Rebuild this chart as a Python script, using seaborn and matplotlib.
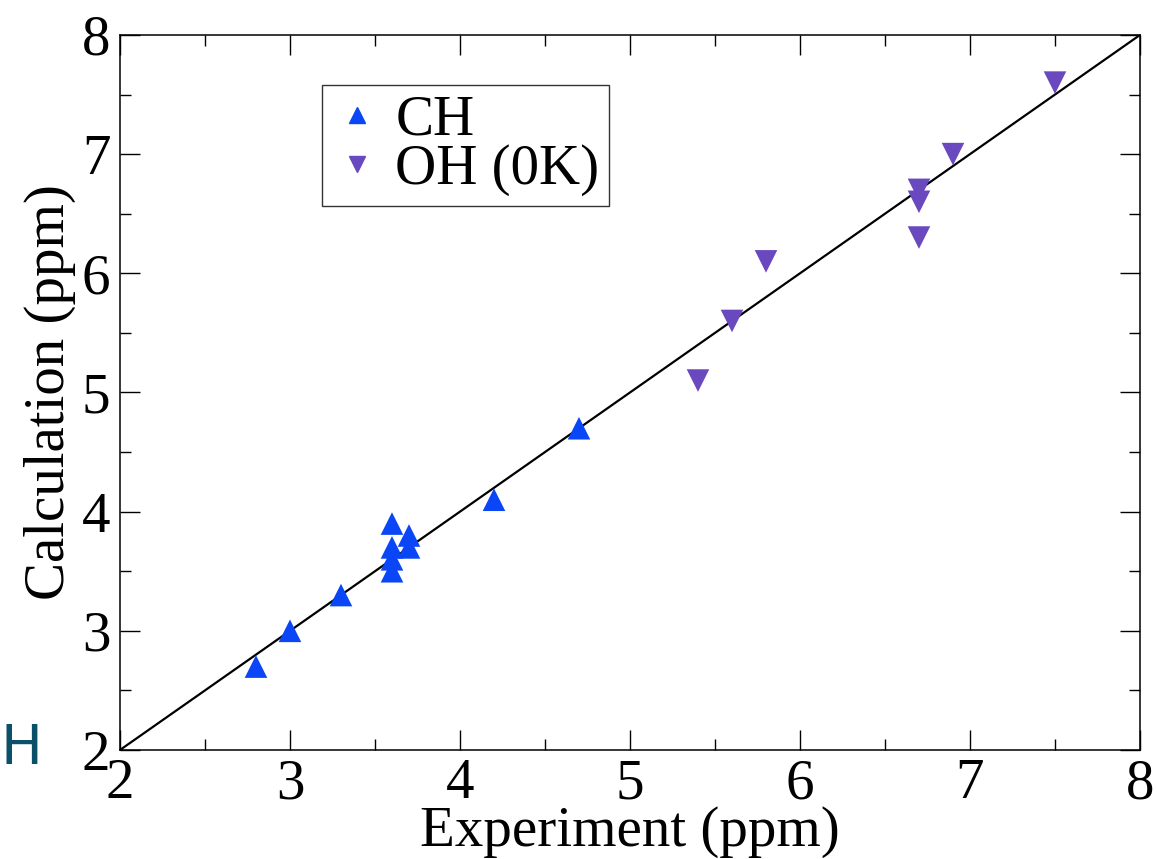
import matplotlib
matplotlib.use("Agg")
import matplotlib.pyplot as plt
import seaborn as sns
import pandas as pd
from matplotlib.ticker import MultipleLocator

# Chemical shifts: experiment vs. calculation (ppm)
ch_exp = [2.8, 3.0, 3.3, 3.6, 3.6, 3.6, 3.6, 3.7, 3.7, 4.2, 4.7]
ch_calc = [2.7, 3.0, 3.3, 3.9, 3.7, 3.6, 3.5, 3.8, 3.7, 4.1, 4.7]
oh_exp = [5.4, 5.6, 5.8, 6.7, 6.7, 6.7, 6.9, 7.5]
oh_calc = [5.1, 5.6, 6.1, 6.7, 6.6, 6.3, 7.0, 7.6]
series_names = ["CH", "OH (0K)"]
axis_limits = [2, 8]

df = pd.DataFrame({
    "exp": ch_exp + oh_exp,
    "calc": ch_calc + oh_calc,
    "group": [series_names[0]] * len(ch_exp) + [series_names[1]] * len(oh_exp),
})

sns.set_style("ticks")
plt.rcParams["font.family"] = ["Liberation Serif", "DejaVu Serif"]
plt.rcParams["text.color"] = "black"
plt.rcParams["axes.labelcolor"] = "black"
plt.rcParams["xtick.color"] = "black"
plt.rcParams["ytick.color"] = "black"
plt.rcParams["axes.edgecolor"] = "black"

fig = plt.figure(figsize=(11.57, 8.59), dpi=100)
ax = fig.add_axes([0.1037, 0.1269, 0.8816, 0.8324])

palette = {series_names[0]: "#0a46f5", series_names[1]: "#6a48be"}
markers = {series_names[0]: "^", series_names[1]: "v"}

# y = x reference line
ax.plot(axis_limits, axis_limits, color="black", lw=1.6, zorder=1)
sns.scatterplot(data=df, x="exp", y="calc", hue="group", style="group",
                palette=palette, markers=markers, s=265, linewidth=0,
                ax=ax, zorder=3, legend=False)

ax.set_xlim(*axis_limits)
ax.set_ylim(*axis_limits)
ax.xaxis.set_major_locator(MultipleLocator(1))
ax.yaxis.set_major_locator(MultipleLocator(1))
ax.xaxis.set_minor_locator(MultipleLocator(0.5))
ax.yaxis.set_minor_locator(MultipleLocator(0.5))
ax.tick_params(which="both", direction="in", top=True, right=True, width=1.0)
ax.tick_params(which="major", length=14.5, labelsize=41)
ax.tick_params(axis="x", which="major", pad=6)
ax.tick_params(axis="y", which="major", pad=7)
ax.tick_params(which="minor", length=8)
for sp in ax.spines.values():
    sp.set_linewidth(1.1)

ax.set_xlabel("Experiment (ppm)", fontsize=41, labelpad=-3)
ax.set_ylabel("Calculation (ppm)", fontsize=41, labelpad=4)

handles = [
    plt.Line2D([], [], marker="^", ls="none", color=palette[series_names[0]], markersize=11),
    plt.Line2D([], [], marker="v", ls="none", color=palette[series_names[1]], markersize=11),
]
leg = ax.legend(handles, series_names, loc="upper left", bbox_to_anchor=(0.198, 0.93),
                fontsize=41, frameon=True, fancybox=False, edgecolor="black",
                handlelength=0.9, handletextpad=0.22, borderpad=0.17,
                labelspacing=-0.05, borderaxespad=0)
leg.get_frame().set_linewidth(1.0)

fig.text(0.0, 0.128, "H", color="#0b5068", fontsize=40, family="DejaVu Sans",
         ha="left", va="center")

fig.savefig("out.png", dpi=100)
